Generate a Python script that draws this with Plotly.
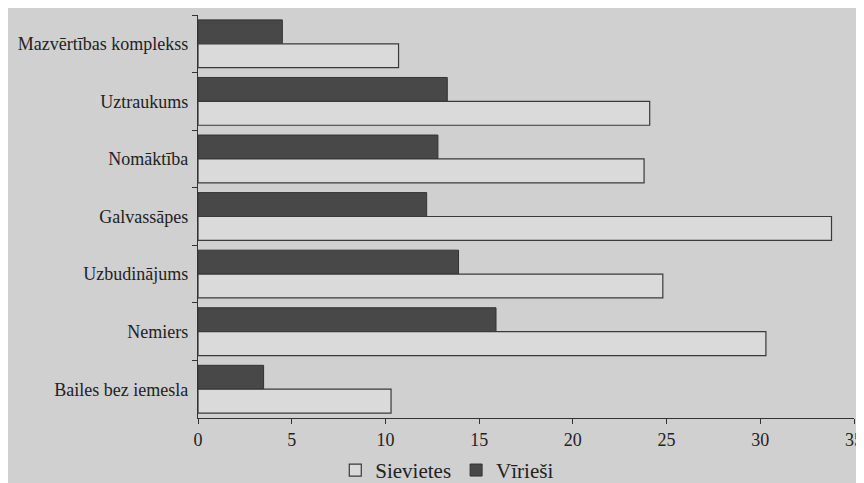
import plotly.graph_objects as go

categories = ["Mazvērtības komplekss", "Uztraukums", "Nomāktība", "Galvassāpes",
              "Uzbudinājums", "Nemiers", "Bailes bez iemesla"]
sievietes = [10.7, 24.1, 23.8, 33.8, 24.8, 30.3, 10.3]
virieshi = [4.5, 13.3, 12.8, 12.2, 13.9, 15.9, 3.5]
x_ticks = [0, 5, 10, 15, 20, 25, 30, 35]

fig = go.Figure()
fig.add_trace(go.Bar(
    y=categories, x=virieshi, name="Vīrieši", orientation="h", legendrank=2,
    marker=dict(color="#484848", line=dict(color="#333333", width=1)),
))
fig.add_trace(go.Bar(
    y=categories, x=sievietes, name="Sievietes", orientation="h", legendrank=1,
    marker=dict(color="#dadada", line=dict(color="#3a3a3a", width=1.2)),
))

# page has an 8px body margin, so margins are shifted to keep the same on-screen layout
fig.update_layout(
    width=864, height=483,
    barmode="group", bargap=0.17, bargroupgap=0,
    paper_bgcolor="#d0d0d0", plot_bgcolor="#d0d0d0",
    font=dict(family="Liberation Serif", size=18, color="#222222"),
    margin=dict(l=190, r=18, t=7, b=73, autoexpand=False),
    legend=dict(
        orientation="h", x=0.38, xanchor="center", y=-0.13, yanchor="middle",
        bgcolor="rgba(0,0,0,0)", font=dict(size=21), traceorder="normal",
        itemwidth=30,
    ),
)

fig.update_xaxes(
    range=[0, 35], tickvals=x_ticks, showgrid=False, zeroline=False,
    showline=True, linecolor="#333333", linewidth=1.2, automargin=False,
    ticks="outside", ticklen=5, tickcolor="#333333",
)
fig.update_yaxes(
    autorange="reversed", showgrid=False, showline=True, automargin=False,
    linecolor="#333333", linewidth=1.2, ticklabelstandoff=5,
    ticks="outside", tickson="boundaries", ticklen=5, tickcolor="#333333",
)

fig.write_html("out.html")
